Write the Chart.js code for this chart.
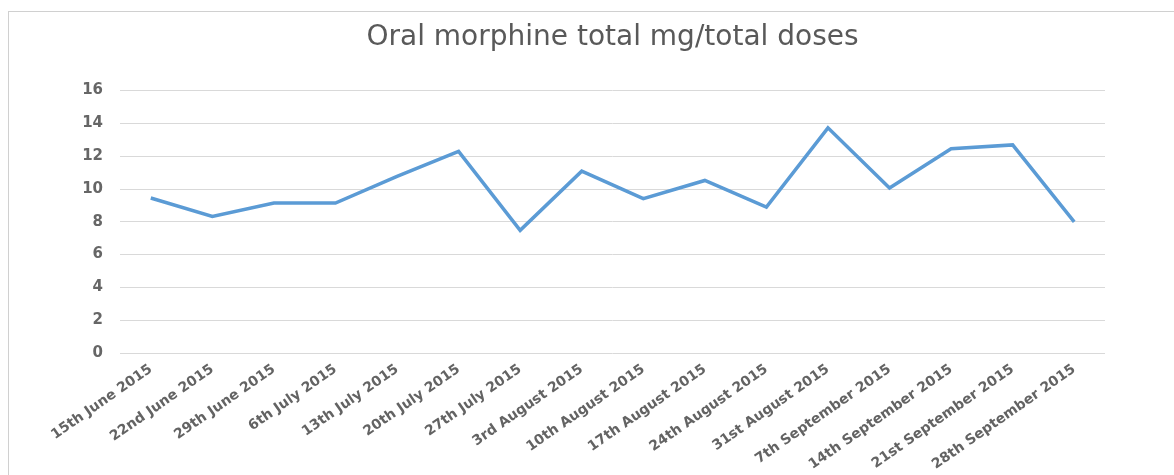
<!DOCTYPE html>
<html>
<head>
<meta charset="utf-8">
<script src="https://cdn.jsdelivr.net/npm/chart.js@4.4.1/dist/chart.umd.min.js"></script>
<style>
  html, body { margin: 0; padding: 0; background: #fff; }
  #wrap { position: relative; width: 1174px; height: 475px; }
  #frame { position: absolute; left: 8px; top: 11px; width: 1180px; height: 480px; border: 1px solid #d0d0d0; box-sizing: border-box; }
  canvas { position: absolute; left: 0; top: 0; }
</style>
</head>
<body>
<div id="wrap">
  <div id="frame"></div>
  <canvas id="c" width="1174" height="475"></canvas>
</div>
<script>
const categories = [
  "15th June 2015", "22nd June 2015", "29th June 2015", "6th July 2015",
  "13th July 2015", "20th July 2015", "27th July 2015", "3rd August 2015",
  "10th August 2015", "17th August 2015", "24th August 2015", "31st August 2015",
  "7th September 2015", "14th September 2015", "21st September 2015", "28th September 2015"
];
const morphineValues = [9.45, 8.33, 9.14, 9.14, 10.77, 12.29, 7.48, 11.09, 9.41, 10.52, 8.9, 13.73, 10.06, 12.45, 12.69, 7.99];
const yTicks = [0, 2, 4, 6, 8, 10, 12, 14, 16];
const chartTitle = "Oral morphine total mg/total doses";

new Chart(document.getElementById('c'), {
  type: 'line',
  data: {
    labels: categories,
    datasets: [{
      label: chartTitle,
      data: morphineValues,
      borderColor: '#5b9bd5',
      borderWidth: 3.5,
      pointRadius: 0,
      tension: 0,
      fill: false
    }]
  },
  options: {
    responsive: false,
    animation: false,
    layout: { padding: { left: 0, right: 69, top: 0, bottom: 0 } },
    plugins: {
      legend: { display: false },
      tooltip: { enabled: false },
      title: {
        display: true,
        fullSize: false,
        text: chartTitle,
        color: '#595959',
        font: { family: 'DejaVu Sans', size: 28, weight: 'normal' },
        padding: { top: 21, bottom: 36 }
      }
    },
    scales: {
      x: {
        offset: true,
        grid: { display: false, drawTicks: false },
        border: { display: false },
        ticks: {
          color: '#636363',
          font: { family: 'DejaVu Sans', size: 14, weight: 'bold' },
          minRotation: 35,
          maxRotation: 35,
          autoSkip: false,
          padding: 8
        },
        afterFit: (s) => { s.height = 122; }
      },
      y: {
        min: 0,
        max: 16,
        afterBuildTicks: (s) => { s.ticks = yTicks.map(v => ({ value: v })); },
        grid: { color: '#d9d9d9', lineWidth: 1, drawTicks: false },
        border: { display: false },
        ticks: {
          color: '#666666',
          font: { family: 'DejaVu Sans', size: 15, weight: 'bold' },
          padding: 17
        },
        afterFit: (s) => { s.width = 120; }
      }
    }
  }
});
</script>
</body>
</html>
